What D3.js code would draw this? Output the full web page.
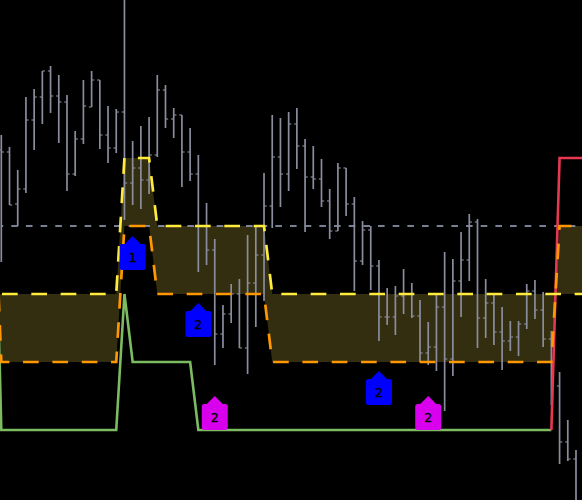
<!DOCTYPE html>
<html>
<head>
<meta charset="utf-8">
<script src="https://cdn.jsdelivr.net/npm/d3@7/dist/d3.min.js"></script>
<style>
html,body{margin:0;padding:0;background:#000;overflow:hidden}
svg{display:block}
</style>
</head>
<body>
<svg id="chart" width="582" height="500"></svg>
<script>
const opens=[350,348,296,311,380,403,429,404,398,326,361,393,420,365,352,388,317,332,320,345,410,381,385,348,326,274,250,166,186,206,152,217,245,294,343,326,376,354,323,321,299,269,332,296,239,270,234,183,183,204,206,184,147,153,193,141,219,240,278,182,197,168,159,163,176,209,190,161,114,58,41];
const highs=[365,353,330,403,411,429,434,425,405,369,420,429,420,394,391,505,359,374,383,425,415,392,385,372,345,297,261,195,216,221,265,273,327,385,382,388,392,361,354,341,311,337,332,303,279,274,240,212,214,231,217,200,178,205,248,241,268,286,281,221,207,193,179,179,216,220,208,169,128,80,50];
const lows=[238,295,274,307,350,376,387,357,309,324,356,393,351,337,347,280,295,291,306,343,372,362,313,319,228,235,135,152,177,152,126,173,199,272,293,309,331,268,311,293,261,269,284,209,235,210,159,175,165,186,182,138,135,129,89,124,183,219,152,162,155,130,149,144,171,181,153,95,36,39,-30];
const closes=[348,295,311,380,403,429,404,398,326,361,394,420,365,352,388,317,332,320,345,410,381,385,348,326,274,250,166,186,206,152,217,245,294,343,326,376,354,323,321,299,269,332,296,239,270,234,183,183,204,206,184,147,153,193,141,219,240,278,182,197,168,159,163,176,209,190,161,114,58,41,-5];

// indicator series start one bar before the first visible bar (index -1)
const upperLine=[206,206,206,206,206,206,206,206,206,206,206,206,206,206,206,206,342,342,342,342,274,274,274,274,274,274,274,274,274,274,274,274,274,274,206,206,206,206,206,206,206,206,206,206,206,206,206,206,206,206,206,206,206,206,206,206,206,206,206,206,206,206,206,206,206,206,206,206,206,206,206,206,206];
const lowerLine=[342,138,138,138,138,138,138,138,138,138,138,138,138,138,138,138,274,274,274,274,206,206,206,206,206,206,206,206,206,206,206,206,206,206,138,138,138,138,138,138,138,138,138,138,138,138,138,138,138,138,138,138,138,138,138,138,138,138,138,138,138,138,138,138,138,138,138,138,138,274,274,274,274];
const greenLine=[407,70,70,70,70,70,70,70,70,70,70,70,70,70,70,70,206,138,138,138,138,138,138,138,138,70,70,70,70,70,70,70,70,70,70,70,70,70,70,70,70,70,70,70,70,70,70,70,70,70,70,70,70,70,70,70,70,70,70,70,70,70,70,70,70,70,70,70,70];
const redLine=[70,342,342,342,342];
const redStart=67;
const refLevel=274;

const markerBars=[16,24,26,46,52];
const markerBase=[230,163,70,95,70];
const markerLabels=["1","2","2","2","2"];
const markerColors=["#0000ff","#0000ff","#d900ee","#0000ff","#d900ee"];

const W=582,H=500;
const x=d3.scaleLinear().domain([0,70]).range([1.3,576]);
const y=d3.scaleLinear().domain([0,500]).range([500,0]);
const svg=d3.select("#chart");
svg.append("rect").attr("width",W).attr("height",H).attr("fill","#000");

const bandData=upperLine.map((u,i)=>({i:i-1,u,l:lowerLine[i]}));
svg.append("path").datum(bandData)
  .attr("d",d3.area().x(d=>x(d.i)).y0(d=>y(d.u)).y1(d=>y(d.l)))
  .attr("fill","#332e10");

svg.append("path")
  .attr("d",d3.line()([[x(0),y(refLevel)],[x(70),y(refLevel)]]))
  .attr("fill","none").attr("stroke","#a3abc4").attr("stroke-width",1.6)
  .attr("stroke-dasharray","6.6 8.07").attr("stroke-dashoffset",4.7);

const bars=svg.append("g").attr("stroke","#8a8d9e");
highs.forEach((h,i)=>{
  bars.append("line").attr("x1",x(i)).attr("x2",x(i)).attr("y1",y(h)).attr("y2",y(lows[i])).attr("stroke-width",1.7);
  bars.append("line").attr("x1",x(i)-2.7).attr("x2",x(i)).attr("y1",y(opens[i])).attr("y2",y(opens[i])).attr("stroke-width",1.1);
  bars.append("line").attr("x1",x(i)).attr("x2",x(i)+2.7).attr("y1",y(closes[i])).attr("y2",y(closes[i])).attr("stroke-width",1.1);
});

const lineFrom=(vals,start)=>d3.line().x((d,i)=>x(i+start)).y(d=>y(d))(vals);
svg.append("path").attr("d",lineFrom(greenLine,-1)).attr("fill","none").attr("stroke","#7dbb62").attr("stroke-width",2.6).attr("stroke-linejoin","miter");
svg.append("path").attr("d",lineFrom(redLine,redStart)).attr("fill","none").attr("stroke","#e63950").attr("stroke-width",2.6);
svg.append("path").attr("d",lineFrom(upperLine,-1)).attr("fill","none").attr("stroke","#ffeb3b").attr("stroke-width",2.7)
  .attr("stroke-dasharray","15.7 13.63").attr("stroke-dashoffset",-8.9);
svg.append("path").attr("d",lineFrom(lowerLine,-1)).attr("fill","none").attr("stroke","#ff9800").attr("stroke-width",2.7)
  .attr("stroke-dasharray","15.7 13.63").attr("stroke-dashoffset",-20.6);

function house(cx,by){
  const p=d3.path(),hw=13,top=by-26,r=2.5;
  p.moveTo(cx,by-34);
  p.lineTo(cx+8,top);
  p.lineTo(cx+hw-r,top);
  p.quadraticCurveTo(cx+hw,top,cx+hw,top+r);
  p.lineTo(cx+hw,by-r);
  p.quadraticCurveTo(cx+hw,by,cx+hw-r,by);
  p.lineTo(cx-hw+r,by);
  p.quadraticCurveTo(cx-hw,by,cx-hw,by-r);
  p.lineTo(cx-hw,top+r);
  p.quadraticCurveTo(cx-hw,top,cx-hw+r,top);
  p.lineTo(cx-8,top);
  p.closePath();
  return p.toString();
}
markerBars.forEach((b,i)=>{
  svg.append("path").attr("d",house(x(b),y(markerBase[i]))).attr("fill",markerColors[i]);
  svg.append("text").attr("x",x(b)).attr("y",y(markerBase[i])-8.5)
    .attr("text-anchor","middle").attr("font-family","DejaVu Sans, sans-serif").attr("font-size",12.5)
    .attr("fill","#000").attr("stroke","#000").attr("stroke-width",0.35).text(markerLabels[i]);
});
</script>
</body>
</html>
